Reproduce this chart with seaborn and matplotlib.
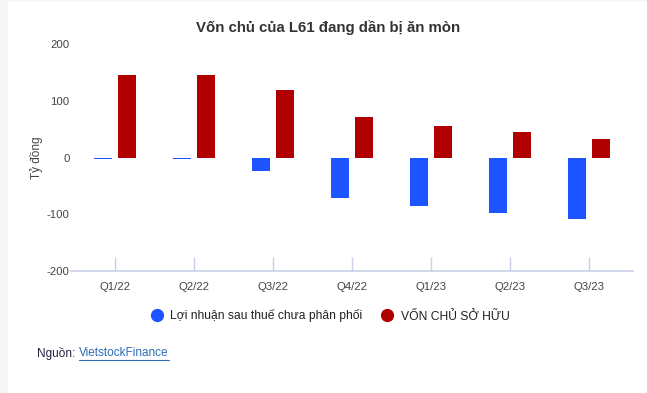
import matplotlib
matplotlib.use("Agg")
import matplotlib.pyplot as plt
from matplotlib.lines import Line2D
from matplotlib.patches import Rectangle
from matplotlib.transforms import ScaledTranslation
import seaborn as sns
import pandas as pd

# ---- data ----
quarters = ["Q1/22", "Q2/22", "Q3/22", "Q4/22", "Q1/23", "Q2/23", "Q3/23"]
loi_nhuan = [-3, -3, -23, -71, -85, -97, -109]
von_chu = [146, 146, 119, 71, 56, 45, 33]
series_names = ["Lợi nhuận sau thuế chưa phân phối", "VỐN CHỦ SỞ HỮU"]
series_colors = ["#1c54ff", "#b10000"]
y_ticks = [-200, -100, 0, 100, 200]
title = "Vốn chủ của L61 đang dần bị ăn mòn"
y_label = "Tỷ đồng"

df = pd.DataFrame({
    "quarter": quarters * 2,
    "value": loi_nhuan + von_chu,
    "series": [series_names[0]] * len(quarters) + [series_names[1]] * len(quarters),
})

sns.set_theme(style="white")
plt.rcParams["font.family"] = ["Liberation Sans", "DejaVu Sans"]

W, H = 647, 393
fig = plt.figure(figsize=(W / 100, H / 100), dpi=100, facecolor="#f6f6f6")
# white card
card = Rectangle((8 / W, 0), 1 - 8 / W, 1 - 2 / H, transform=fig.transFigure,
                 facecolor="white", edgecolor="none", zorder=-10)
fig.patches.append(card)

ax = fig.add_axes([71 / W, 1 - 271 / H, (633 - 71) / W, (271 - 44) / H])
ax.set_facecolor("none")
ax.set_zorder(5)

sns.barplot(data=df, x="quarter", y="value", hue="series", order=quarters,
            hue_order=series_names, palette=series_colors, width=0.61, gap=0.26,
            saturation=1, ax=ax, legend=False, errorbar=None, linewidth=0)

ax.set_ylim(-200, 200)
ax.set_xlim(-0.557, 6.557)
ax.set_yticks(y_ticks)
ax.set_yticklabels([str(v) for v in y_ticks], color="#444444", fontsize=8.2)
up = ScaledTranslation(0, 3 / 100, fig.dpi_scale_trans)
for lbl in ax.get_yticklabels():
    lbl.set_transform(lbl.get_transform() + up)
ax.tick_params(axis="y", left=False, length=0, pad=1)
ax.tick_params(axis="x", bottom=True, direction="in", length=10, width=1, color="#c9d0e6",
               labelsize=8.2, labelcolor="#444444", pad=8)
for side in ["top", "right", "left"]:
    ax.spines[side].set_visible(False)
ax.spines["bottom"].set_color("#c9d0e6")
ax.spines["bottom"].set_linewidth(1.2)
ax.set_xlabel("")
ax.set_ylabel(y_label, fontsize=8.5, color="#444444", labelpad=3)

fig.text(328 / W, 1 - 28 / H, title, ha="center", va="center", fontsize=10.8,
         fontweight="bold", color="#333333")

handles = [Line2D([], [], marker="o", linestyle="none", markersize=8.5,
                  markerfacecolor=c, markeredgecolor=c) for c in series_colors]
fig.legend(handles, series_names, loc="center", bbox_to_anchor=(327 / W, 1 - 316 / H),
           ncol=2, frameon=False, fontsize=8.7, handletextpad=0.1, columnspacing=1.1,
           labelcolor="#222222")

fig.text(37 / W, 1 - 353 / H, "Nguồn: ", ha="left", va="center", fontsize=8.5, color="#222244")
fig.text(79 / W, 1 - 353 / H, "VietstockFinance", ha="left", va="center", fontsize=8.5,
         color="#2a6cb8")
fig.add_artist(Line2D([79 / W, 169 / W], [1 - 360 / H, 1 - 360 / H], transform=fig.transFigure,
                      color="#2a6cb8", linewidth=0.8))

fig.savefig("out.png", dpi=100, facecolor=fig.get_facecolor())
